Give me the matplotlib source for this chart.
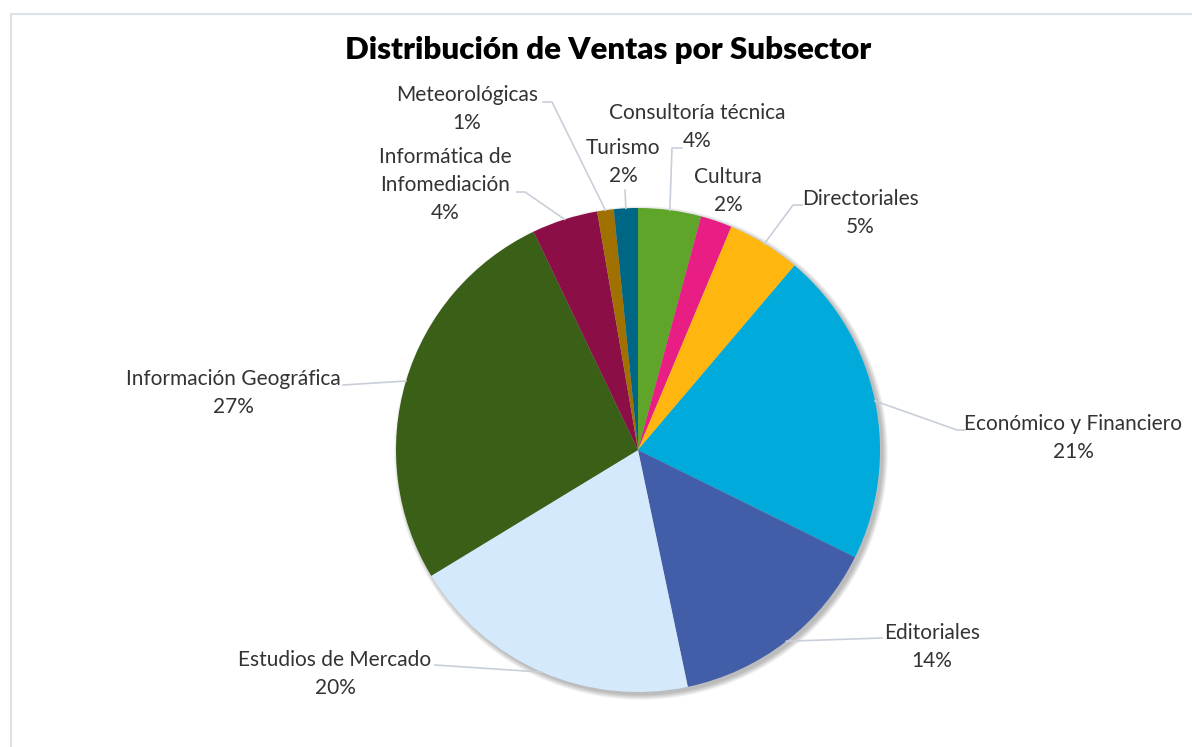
import matplotlib.pyplot as plt
from matplotlib.patches import Circle
import numpy as np

# datos (porcentaje de ventas por subsector)
categories = ["Consultoría técnica", "Cultura", "Directoriales",
              "Económico y Financiero", "Editoriales", "Estudios de Mercado",
              "Información Geográfica", "Informática de\nInfomediación",
              "Meteorológicas", "Turismo"]
values = [4.2, 2.1, 4.9, 21.1, 14.4, 19.6, 26.6, 4.4, 1.1, 1.6]
colors = ["#5EA52A", "#E91E84", "#FFB60F", "#00AADB", "#425EA9",
          "#D4EAFC", "#3A5F17", "#8B0E46", "#A07000", "#006685"]

W, H = 1192, 747
# posiciones de las etiquetas (pixeles de la imagen) y codo de la linea guia
label_xy = [(697, 127), (728, 191), (860, 213), (1073, 438), (932, 647),
            (335, 674), (233, 393), (445, 185), (467, 109), (623, 162)]
elbows = [[(682, 148), (672, 148)], None, [(802, 205), (793, 205)],
          [(965, 430), (957, 430)], [(882, 638)], [(435, 665)],
          [(343, 385)], [(517, 192), (525, 192)], [(543, 102), (552, 102)],
          [(625, 190)]]
line_pitch = 28

def fy(y):
    return H - y

fig = plt.figure(figsize=(W / 100, H / 100), dpi=100)
ax = fig.add_axes([0, 0, 1, 1])

cx, cy, r = 638, fy(450), 242

# sombra suave
for i in range(8):
    ax.add_patch(Circle((cx + 3, cy - 3), r + i * 0.7, color="black",
                        alpha=0.035, lw=0, zorder=0))

wedges, _ = ax.pie(values, colors=colors, startangle=90, counterclock=False,
                   center=(cx, cy), radius=r,
                   wedgeprops=dict(linewidth=0, zorder=1))

total = sum(values)
for w, name, v, pos, elb in zip(wedges, categories, values, label_xy, elbows):
    w.set_zorder(1)
    lines = name.split("\n") + [f"{round(v / total * 100)}%"]
    y0 = pos[1] - line_pitch * (len(lines) - 1) / 2
    for k, s in enumerate(lines):
        ax.text(pos[0], fy(y0 + k * line_pitch), s, ha="center",
                va="center", fontsize=15, family="Lato", color="#333333",
                zorder=3)
    if elb is None:
        continue
    mid = np.deg2rad((w.theta1 + w.theta2) / 2)
    ex, ey = cx + r * np.cos(mid), cy + r * np.sin(mid)
    xs = [p[0] for p in elb] + [ex]
    ys = [fy(p[1]) for p in elb] + [ey]
    ax.plot(xs, ys, color="#c9cfd9", lw=1.2, zorder=2)

fig.text(608 / W, 1 - 50 / H, "Distribución de Ventas por Subsector",
         ha="center", va="center", fontsize=22.5, fontweight="heavy",
         family="Lato", color="black")

# marco del grafico
ax.plot([11, W], [fy(14), fy(14)], color="#dde2ea", lw=1.5, zorder=0)
ax.plot([11, 11], [fy(14), 0], color="#dde2ea", lw=1.5, zorder=0)

ax.set_xlim(0, W)
ax.set_ylim(0, H)
ax.set_aspect("equal")
ax.axis("off")

fig.savefig("out.png", dpi=100)
